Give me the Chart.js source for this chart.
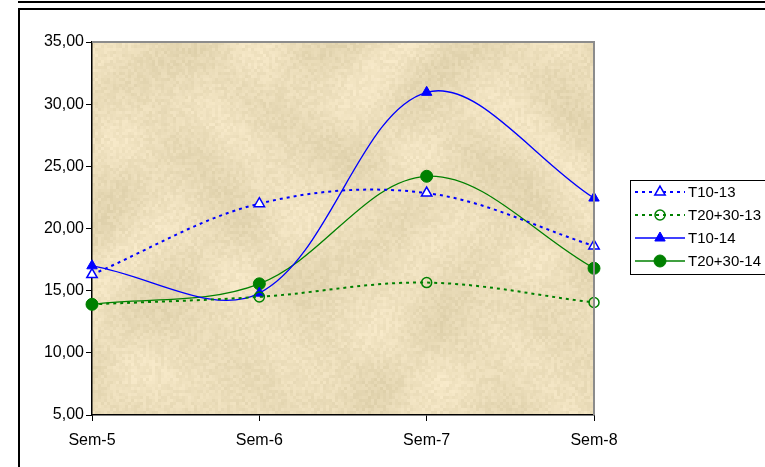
<!DOCTYPE html>
<html>
<head>
<meta charset="utf-8">
<script src="https://cdn.jsdelivr.net/npm/chart.js@4"></script>
<style>
  html, body { margin: 0; padding: 0; background: #fff; }
  #wrap { width: 765px; height: 467px; position: relative; }
</style>
</head>
<body>
<div id="wrap"><canvas id="myChart" width="765" height="467"></canvas></div>
<script>
// values
const categories = ["Sem-5", "Sem-6", "Sem-7", "Sem-8"];
const t10_13 = [16.3, 22.0, 22.85, 18.6];
const t2030_13 = [13.9, 14.5, 15.65, 14.05];
const t10_14 = [17.0, 14.8, 30.95, 22.45];
const t2030_14 = [13.9, 15.55, 24.2, 16.8];
const seriesNames = ["T10-13", "T20+30-13", "T10-14", "T20+30-14"];
const yMin = 5, yMax = 35, yStep = 5;

const ctx = document.getElementById('myChart');
const FONT = "'Liberation Sans', Arial, sans-serif";

// parchment-ish fill for the plot area
function makeTexture(){
  const c = document.createElement('canvas');
  c.width = 502; c.height = 373;
  const g = c.getContext('2d');
  g.fillStyle = '#ebdcb9';
  g.fillRect(0, 0, c.width, c.height);
  for (let y = 0; y < c.height; y += 3) {
    for (let x = 0; x < c.width; x += 3) {
      let v = Math.sin(x * 0.045 + Math.sin(y * 0.03) * 2) + Math.cos(y * 0.05 + Math.sin(x * 0.02) * 3);
      let h = Math.sin(x * 12.9898 + y * 78.233) * 43758.5453;
      h = h - Math.floor(h);
      let d = v * 4 + (h - 0.5) * 12;
      g.fillStyle = 'rgb(' + Math.round(235 + d) + ',' + Math.round(221 + d) + ',' + Math.round(186 + d * 1.2) + ')';
      g.fillRect(x, y, 3, 3);
    }
  }
  return c;
}
const texture = makeTexture();

const framePlugin = {
  id: 'frame',
  beforeDraw(chart){
    const c = chart.ctx, a = chart.chartArea;
    c.save();
    c.fillStyle = '#fff';
    c.fillRect(0, 0, chart.width, chart.height);
    // outer boxes
    c.strokeStyle = '#000';
    c.lineWidth = 2;
    c.beginPath();
    c.moveTo(18, 2); c.lineTo(765, 2);
    c.moveTo(19, 467); c.lineTo(19, 9); c.lineTo(765, 9);
    c.stroke();
    c.drawImage(texture, a.left, a.top, a.right - a.left, a.bottom - a.top);
    c.restore();
  },
  afterDatasetsDraw(chart){
    const c = chart.ctx, a = chart.chartArea;
    c.save();
    c.strokeStyle = '#8c8c8c';
    c.lineWidth = 2;
    c.beginPath();
    c.moveTo(a.left, a.top); c.lineTo(a.right, a.top); c.lineTo(a.right, a.bottom);
    c.stroke();
    c.restore();
  },
  afterDraw(chart){
    // legend box
    const c = chart.ctx;
    c.save();
    c.strokeStyle = '#000';
    c.lineWidth = 1;
    c.strokeRect(630.5, 180.5, 140, 94);
    c.font = '15px ' + FONT;
    c.textBaseline = 'middle';
    chart.data.datasets.forEach((ds, i) => {
      const y = 192 + i * 23;
      c.strokeStyle = ds.borderColor;
      c.lineWidth = ds.borderWidth;
      c.setLineDash(ds.borderDash || []);
      c.beginPath(); c.moveTo(635, y); c.lineTo(685, y); c.stroke();
      c.setLineDash([]);
      c.fillStyle = ds.pointBackgroundColor;
      c.strokeStyle = ds.pointBorderColor;
      c.lineWidth = ds.pointBorderWidth;
      Chart.helpers.drawPoint(c, { pointStyle: ds.pointStyle, radius: ds.pointRadius, rotation: 0, borderWidth: ds.pointBorderWidth }, 660, y);
      c.fillStyle = '#000';
      c.fillText(ds.label, 688, y + 1);
    });
    c.restore();
  }
};

new Chart(ctx, {
  type: 'line',
  data: {
    labels: categories,
    datasets: [
      { label: seriesNames[0], data: t10_13, borderColor: '#0000ff', borderWidth: 2, borderDash: [3, 4],
        pointStyle: 'triangle', pointRadius: 6, pointBackgroundColor: '#ffffff', pointBorderColor: '#0000ff', pointBorderWidth: 1.5 },
      { label: seriesNames[1], data: t2030_13, borderColor: '#008000', borderWidth: 2, borderDash: [3, 4],
        pointStyle: 'circle', pointRadius: 5, pointBackgroundColor: 'rgba(0,0,0,0)', pointBorderColor: '#008000', pointBorderWidth: 1.5 },
      { label: seriesNames[2], data: t10_14, borderColor: '#0000ff', borderWidth: 1.3,
        pointStyle: 'triangle', pointRadius: 6, pointBackgroundColor: '#0000ff', pointBorderColor: '#0000ff', pointBorderWidth: 1 },
      { label: seriesNames[3], data: t2030_14, borderColor: '#008000', borderWidth: 1.3,
        pointStyle: 'circle', pointRadius: 6, pointBackgroundColor: '#008000', pointBorderColor: '#008000', pointBorderWidth: 1 }
    ]
  },
  options: {
    responsive: false,
    animation: false,
    devicePixelRatio: 1,
    clip: false,
    elements: { line: { tension: 0.35, fill: false } },
    layout: { padding: { left: 0, top: 42, right: 171, bottom: 0 } },
    plugins: { legend: { display: false }, tooltip: { enabled: false } },
    scales: {
      x: {
        offset: false,
        grid: { drawOnChartArea: false, color: '#000', tickLength: 6, tickColor: '#000' },
        border: { color: '#000', width: 1.5 },
        ticks: { color: '#000', font: { family: FONT, size: 16 }, padding: 10, maxRotation: 0 },
        afterFit(s){ s.height = 52; }
      },
      y: {
        min: yMin, max: yMax,
        grid: { drawOnChartArea: false, color: '#000', tickLength: 6, tickColor: '#000' },
        border: { color: '#000', width: 1.5 },
        ticks: { stepSize: yStep, color: '#000', font: { family: FONT, size: 16 }, padding: 2,
          callback: v => v.toFixed(2).replace('.', ',') },
        afterFit(s){ s.width = 92; }
      }
    }
  },
  plugins: [framePlugin]
});
</script>
</body>
</html>
